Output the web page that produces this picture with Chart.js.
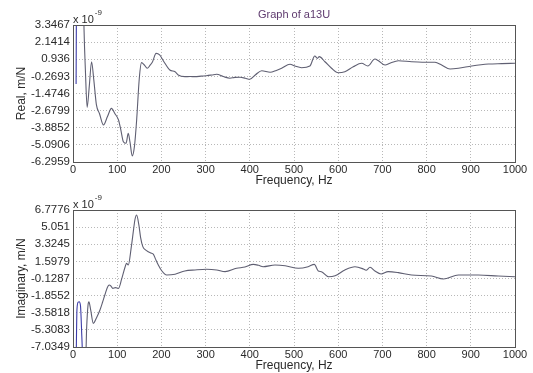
<!DOCTYPE html>
<html lang="en">
<head>
<meta charset="UTF-8">
<title>Graph of a13U</title>
<script src="https://cdn.jsdelivr.net/npm/chart.js"></script>
<style>
  body { margin:0; background:#fff; }
  .painel { position:absolute; left:0; width:533px; }
  #p1 { top:0; height:190px; }
  #p2 { top:190px; height:183px; }
</style>
</head>
<body>
<div class="painel" id="p1"><canvas id="graficoReal"></canvas></div>
<div class="painel" id="p2"><canvas id="graficoImag"></canvas></div>
<script>
// valores em unidades de 1e-9 m/N
const freqReal = [7, 8.5, 22, 25, 28, 32, 37, 42, 47, 53, 60, 69, 78, 87, 95, 103, 108, 114, 120, 125, 129, 134, 139, 144, 150, 155, 161, 168, 174, 180, 188, 196, 205, 219, 231, 238, 253, 265, 276, 290, 302, 314, 325, 340, 355, 366, 378, 390, 400, 413, 427, 446, 460, 472, 491, 502, 517, 536, 547, 553, 557, 570, 585, 600, 615, 634, 653, 667, 683, 691, 706, 717, 736, 766, 790, 819, 834, 853, 872, 902, 940, 970, 1000]
const valReal = [-0.8, 8, 8, 3.0, 0.2, -2.45, -0.9, 0.76, -0.5, -2.28, -2.9, -3.69, -3.1, -2.52, -2.9, -3.34, -4.0, -4.87, -4.98, -4.28, -4.9, -5.87, -5.2, -3.34, -0.40, 0.70, 0.55, 0.30, 0.5, 0.76, 1.35, 1.24, 0.8, 0.18, 0.06, -0.17, -0.29, -0.28, -0.29, -0.25, -0.22, -0.17, -0.12, -0.28, -0.40, -0.34, -0.33, -0.40, -0.47, -0.15, 0.13, 0.02, 0.15, 0.30, 0.58, 0.46, 0.34, 0.46, 1.17, 1.00, 1.12, 0.76, 0.30, -0.01, 0.06, 0.41, 0.65, 0.46, 0.95, 0.83, 0.53, 0.65, 0.83, 0.76, 0.73, 0.72, 0.53, 0.25, 0.30, 0.46, 0.60, 0.63, 0.65]

const freqImag = [7, 9, 12, 14, 17, 20, 23, 28, 31, 34, 36, 40, 46, 53, 61, 67, 72, 78, 82, 86, 90, 96, 103, 110, 118, 121, 125, 132, 137, 140, 144, 149, 153, 158, 164, 170, 176, 182, 187, 193, 200, 212, 231, 253, 276, 302, 325, 344, 370, 389, 408, 420, 430, 457, 480, 510, 532, 546, 555, 562, 578, 593, 615, 638, 657, 663, 672, 683, 697, 713, 736, 766, 811, 838, 872, 917, 962, 1000]
const valImag = [-9, -3.2, -2.5, -2.47, -2.9, -6, -9, -9, -5, -2.8, -2.47, -3.3, -4.65, -4.1, -3.30, -2.5, -1.79, -1.0, -0.78, -0.9, -1.12, -1.05, -1.12, -0.2, 1.06, 1.40, 1.23, 3.08, 4.8, 5.77, 6.27, 5.27, 4.0, 3.08, 2.75, 2.57, 2.45, 2.31, 1.8, 1.23, 0.7, 0.22, 0.3, 0.63, 0.73, 0.80, 0.73, 0.56, 0.90, 1.03, 1.30, 1.2, 1.06, 1.23, 1.16, 0.90, 1.06, 1.30, 0.63, 0.56, 0.05, 0.15, 0.73, 1.06, 0.83, 0.70, 1.00, 0.63, 0.33, 0.56, 0.46, 0.22, 0.12, -0.18, 0.22, 0.22, 0.12, 0.05]

const ticksReal = [3.3467, 2.1414, 0.936, -0.2693, -1.4746, -2.6799, -3.8852, -5.0906, -6.2959]
const ticksImag = [6.7776, 5.051, 3.3245, 1.5979, -0.1287, -1.8552, -3.5818, -5.3083, -7.0349]
const ticksFreq = [0, 100, 200, 300, 400, 500, 600, 700, 800, 900, 1000]

const fonte = "'Liberation Sans', Arial, sans-serif"
const corTexto = '#2a2a2a'

// moldura da caixa e o rotulo "x 10^-9"
const moldura = {
  id: 'moldura',
  afterDraw(chart, args, opts) {
    const a = chart.chartArea
    const ctx = chart.ctx
    ctx.save()
    ctx.strokeStyle = '#555'
    ctx.lineWidth = 1
    ctx.strokeRect(Math.round(a.left) + 0.5, Math.round(a.top) + 0.5, Math.round(a.right - a.left), Math.round(a.bottom - a.top))
    ctx.fillStyle = corTexto
    ctx.textBaseline = 'alphabetic'
    ctx.font = '11px ' + fonte
    ctx.fillText('x 10', a.left, a.top - 2)
    const w = ctx.measureText('x 10').width
    ctx.font = '8px ' + fonte
    ctx.fillText('-9', a.left + w + 1, a.top - 10)
    if (opts.titulo) {
      ctx.fillStyle = '#5e3a6e'
      ctx.font = '11px ' + fonte
      ctx.textAlign = 'center'
      ctx.fillText(opts.titulo, (a.left + a.right) / 2, 18)
    }
    ctx.restore()
  }
}

function montar(canvas, freq, vals, ticksY, nomeY, alturaX, topo, titulo, limiteAzul, padTitulo) {
  const pontos = freq.map((f, i) => ({x: f, y: vals[i]}))
  return new Chart(canvas, {
    type: 'line',
    data: {
      datasets: [{
        data: pontos,
        borderColor: '#5f5f72',
        borderWidth: 1.1,
        pointRadius: 0,
        cubicInterpolationMode: 'monotone',
        segment: {
          borderColor: c => c.p1.parsed.x <= limiteAzul ? '#3c3ca8' : '#5f5f72'
        }
      }]
    },
    options: {
      responsive: true,
      maintainAspectRatio: false,
      animation: false,
      layout: { padding: { top: topo, right: 18, left: 0, bottom: 0 } },
      plugins: {
        legend: { display: false },
        tooltip: { enabled: false },
        moldura: { titulo: titulo }
      },
      scales: {
        x: {
          type: 'linear',
          min: 0, max: 1000,
          afterFit: s => { s.height = alturaX },
          afterBuildTicks: s => { s.ticks = ticksFreq.map(v => ({value: v})) },
          grid: { color: '#b8b8b8', borderDash: [1, 2], drawTicks: false },
          border: { display: false, dash: [1, 2] },
          ticks: { color: corTexto, font: { family: fonte, size: 11 }, padding: 1, maxRotation: 0, callback: v => String(v) },
          title: { display: true, text: 'Frequency, Hz', color: corTexto, font: { family: fonte, size: 12 }, padding: { top: 0, bottom: padTitulo } }
        },
        y: {
          type: 'linear',
          min: ticksY[ticksY.length - 1], max: ticksY[0],
          afterFit: s => { s.width = 73 },
          afterBuildTicks: s => { s.ticks = ticksY.map(v => ({value: v})) },
          grid: { color: '#b8b8b8', borderDash: [1, 2], drawTicks: false },
          border: { display: false, dash: [1, 2] },
          ticks: { color: corTexto, font: { family: fonte, size: 11.5 }, padding: 3, callback: v => String(v) },
          title: { display: true, text: nomeY, color: corTexto, font: { family: fonte, size: 12 }, padding: { top: 14 } }
        }
      }
    },
    plugins: [moldura]
  })
}

montar(document.getElementById('graficoReal'), freqReal, valReal, ticksReal, 'Real, m/N', 28, 25, 'Graph of a13U', 20, 2)
montar(document.getElementById('graficoImag'), freqImag, valImag, ticksImag, 'Imaginary, m/N', 26, 20, null, 25, 0)
</script>
</body>
</html>
